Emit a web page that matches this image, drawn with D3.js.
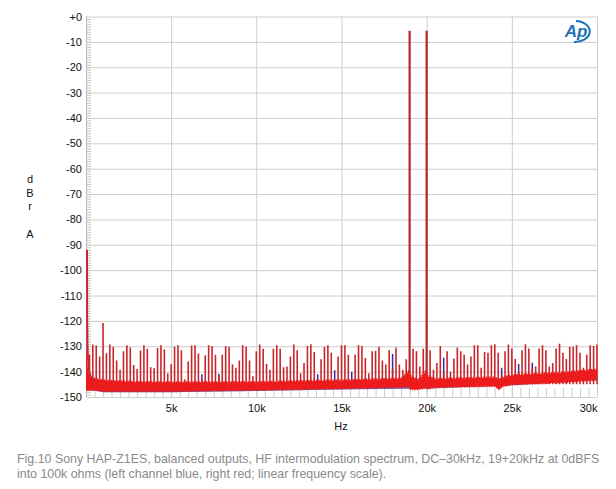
<!DOCTYPE html>
<html><head><meta charset="utf-8">
<script src="https://cdn.jsdelivr.net/npm/d3@7"></script>
<style>
body{margin:0;background:#fff}
svg{display:block}
text{font-family:"Liberation Sans",Arial,Helvetica,sans-serif}
</style>
</head><body>
<svg id="c" width="616" height="489"></svg>
<script>
// ---------- DATA ----------
const yTicks = [0,-10,-20,-30,-40,-50,-60,-70,-80,-90,-100,-110,-120,-130,-140,-150];
const xTicks = [5000,10000,15000,20000,25000,30000];
const xTickLabels = ["5k","10k","15k","20k","25k","30k"];

// IMD spur frequencies (kHz) and right-channel (red) levels (dBr A)
const spikeFreqsK = [
 0.2,0.4,0.6,0.8,1.0,1.2,1.4,1.6,1.8,2.0,2.2,2.4,2.6,2.8,3.0,3.2,3.4,3.6,3.8,4.0,4.2,4.4,4.6,4.8,5.0,5.2,5.4,5.6,5.8,6.0,
 6.2,6.4,6.6,6.8,7.0,7.2,7.4,7.6,7.8,8.0,8.2,8.4,8.6,8.8,9.0,9.2,9.4,9.6,9.8,10.0,10.2,10.4,10.6,10.8,11.0,11.2,11.4,11.6,11.8,12.0,
 12.2,12.4,12.6,12.8,13.0,13.2,13.4,13.6,13.8,14.0,14.2,14.4,14.6,14.8,15.0,15.2,15.4,15.6,15.8,16.0,16.2,16.4,16.6,16.8,17.0,17.2,17.4,17.6,17.8,18.0,
 18.2,18.4,18.6,18.8,19.0,19.2,19.4,19.6,19.8,20.0,20.2,20.4,20.6,20.8,21.0,21.2,21.4,21.6,21.8,22.0,22.2,22.4,22.6,22.8,23.0,23.2,23.4,23.6,23.8,24.0,
 24.2,24.4,24.6,24.8,25.0,25.2,25.4,25.6,25.8,26.0,26.2,26.4,26.6,26.8,27.0,27.2,27.4,27.6,27.8,28.0,28.2,28.4,28.6,28.8,29.0,29.2,29.4,29.6,29.8,30.0];
const redSpikeLevels = [
 -133.3,-129.3,-129.7,-134,-120.8,-132.8,-129.3,-130.2,-135.6,-139.3,-132,-129.6,-130.5,-137.4,-139,-131.7,-129.6,-131,-138.3,-138.7,-130.7,-129.6,-131.3,-140.6,-137.1,-130.2,-129.6,-131.6,-143,-136,
 -129.7,-129.6,-132.9,-143,-133.5,-129.6,-129.9,-133.3,-141.5,-133.3,-129.9,-130.2,-137.2,-138.5,-135.6,-129.6,-130.2,-135.6,-141.8,-132,-129.3,-131,-137,-139.3,-131,-129.6,-131,-138.3,-138,-134,
 -129.3,-131.6,-140.6,-136.6,-129.9,-129.2,-132.3,-143,-135.1,-130.2,-129.6,-132.6,-143,-134,-129.6,-129.6,-133.3,-143,-133.3,-129.6,-129.9,-134.6,-140.6,-132,-131.8,-130.2,-135.6,-137.2,-131.6,-139,
 -130.5,-137.2,-139.3,-135.1,-5.6,-131,-132,-138,-131,-5.6,-131.6,-139.3,-136.6,-129.9,-140,-132,-140,-134.8,-130.5,-132,-133.3,-137.2,-134,-129.6,-129.6,-138.5,-132.3,-132.6,-129.6,-129.2,
 -132.6,-141,-132,-129.3,-130.9,-135,-140,-131.6,-129.2,-130.9,-139,-138,-130.9,-129.6,-131.6,-138,-136.6,-130.9,-129,-132.6,-135,-130.2,-130.2,-129.6,-132.6,-138.5,-133.3,-129.6,-129.9,-129.3];

// left-channel (blue) spurs that show above the red trace
const blueSpikeFreqsK = [6.8,7.8,13.6,14.6,15.6,18.0,21.0,24.4,25.4,26.2];
const blueSpikeLevels = [-141,-140.8,-141,-139.5,-140,-133,-134.5,-138.5,-137,-136.5];

// noise floor envelopes (Hz, dB)
const redFloorFreqs  = [300,1000,3000,5000,10000,15000,18500,18950,19050,19500,19950,20050,20500,24000,24250,24500,25000,28000,30000];
const redFloorTop    = [-142.5,-143.5,-144.2,-144.3,-144.2,-143.5,-142.8,-140,-141.8,-143.5,-140,-141.8,-143,-142.3,-143.5,-142.3,-141.5,-140.4,-139.2];
const redFloorBottom = [-147,-147.8,-147.8,-147.8,-147.3,-146.7,-146.2,-146,-147,-147,-146.5,-146.8,-146.3,-145.8,-147,-145.8,-145.2,-144.3,-143.2];
const blueFloorFreqs  = [300,1000,5000,10000,15000,20000,25000,30000];
const blueFloorTop    = [-143.5,-144.5,-145,-145,-144.5,-143.5,-142.5,-140.5];
const blueFloorBottom = [-147.2,-148.1,-148.1,-147.6,-147,-146.6,-145.4,-143.4];

// DC / low-frequency skirt
const dcFreqs  = [0,10,30,60,100,150,220,320,450];
const dcLevels = [-92,-118,-130,-135,-138.5,-140.5,-142,-143,-143.5];

const captionLines = [
 "Fig.10 Sony HAP-Z1ES, balanced outputs, HF intermodulation spectrum, DC\u201330kHz, 19+20kHz at 0dBFS",
 "into 100k ohms (left channel blue, right red; linear frequency scale)."
];

// ---------- CHART ----------
const svg = d3.select("#c");
const L = 86, R = 597, T = 16.5, B = 397;
const x = d3.scaleLinear().domain([0,30000]).range([L,R]);
const y = d3.scaleLinear().domain([-150,0]).range([B,T]);
const gridC = "#cdcdcd";

// grid
svg.append("g").attr("transform",`translate(${L},0)`)
  .call(d3.axisLeft(y).tickValues(yTicks).tickSize(-(R-L)).tickFormat(""))
  .call(g=>{g.select(".domain").remove(); g.selectAll("line").attr("stroke",gridC);});
svg.append("g").attr("transform",`translate(0,${B})`)
  .call(d3.axisBottom(x).tickValues(xTicks).tickSize(-(B-T)).tickFormat(""))
  .call(g=>{g.select(".domain").remove(); g.selectAll("line").attr("stroke",gridC);});
svg.append("line").attr("x1",L+0.5).attr("x2",L+0.5).attr("y1",T).attr("y2",B).attr("stroke","#b8b8b8");

// minor ticks
const yMinor = d3.range(-149,0,1);
svg.append("g").attr("transform",`translate(${L},0)`)
  .call(d3.axisRight(y).tickValues(yMinor).tickSize(5).tickFormat(""))
  .call(g=>{g.select(".domain").remove(); g.selectAll("line").attr("stroke","#c4c4c4");});
const xMinor = d3.range(500,30000,500);
svg.append("g").attr("transform",`translate(0,${B})`)
  .call(d3.axisTop(x).tickValues(xMinor).tickSize(9).tickFormat(""))
  .call(g=>{g.select(".domain").remove(); g.selectAll("line").attr("stroke","#cfcfcf");});

// tick labels
svg.append("g").attr("transform",`translate(${L},0)`)
  .call(d3.axisLeft(y).tickValues(yTicks).tickSize(0).tickPadding(4).tickFormat(d=>d===0?"+0":String(d)))
  .call(g=>{g.select(".domain").remove(); g.selectAll("text").attr("font-size",11).attr("fill","#111").attr("font-family","'Liberation Sans',Arial,sans-serif");});
svg.append("g").attr("transform",`translate(0,${B})`)
  .call(d3.axisBottom(x).tickValues(xTicks).tickSize(0).tickPadding(7).tickFormat((d,i)=>xTickLabels[i]))
  .call(g=>{g.select(".domain").remove(); g.selectAll("text").attr("font-size",11).attr("fill","#111").attr("font-family","'Liberation Sans',Arial,sans-serif");
    g.selectAll("text").filter(d=>d===30000).attr("text-anchor","end").attr("dx",0);});

// axis titles
[["d",183],["B",197],["r",210],["A",238]].forEach(([s,yy])=>{
  svg.append("text").attr("x",30).attr("y",yy).attr("font-size",11).attr("fill","#111").attr("text-anchor","middle").text(s);
});
svg.append("text").attr("x",341).attr("y",430).attr("font-size",11).attr("fill","#111").attr("text-anchor","middle").text("Hz");

// clip
svg.append("clipPath").attr("id","clip").append("rect").attr("x",L).attr("y",T-1).attr("width",R-L+1).attr("height",B-T+1.5);
const plot = svg.append("g").attr("clip-path","url(#clip)");

const redC = "#ec1c1c", redDark = "#c9262b", blueC = "#3a2aa8";

// blue floor
const areaB = d3.area().x((d,i)=>x(blueFloorFreqs[i])).y0((d,i)=>y(blueFloorBottom[i])).y1((d,i)=>y(blueFloorTop[i]));
plot.append("path").attr("d",areaB(blueFloorFreqs)).attr("fill",blueC).attr("opacity",0.75);
// blue spikes
plot.selectAll(".bs").data(blueSpikeFreqsK).join("line")
  .attr("x1",d=>x(d*1000)).attr("x2",d=>x(d*1000))
  .attr("y1",y(-145)).attr("y2",(d,i)=>y(blueSpikeLevels[i]))
  .attr("stroke",blueC).attr("stroke-width",1.5);

// red spikes
plot.selectAll(".rs").data(spikeFreqsK).join("line")
  .attr("x1",d=>x(d*1000)).attr("x2",d=>x(d*1000))
  .attr("y1",y(-145)).attr("y2",(d,i)=>y(redSpikeLevels[i]))
  .attr("stroke",(d,i)=>redSpikeLevels[i]>-50?"#b8262c":redDark)
  .attr("stroke-width",(d,i)=>redSpikeLevels[i]>-50?2.2:1.6);

// red floor
const areaR = d3.area().x((d,i)=>x(redFloorFreqs[i])).y0((d,i)=>y(redFloorBottom[i])).y1((d,i)=>y(redFloorTop[i]));
plot.append("path").attr("d",areaR(redFloorFreqs)).attr("fill",redC);
// ragged edges of floor
const lineTop = d3.line().x((d,i)=>x(redFloorFreqs[i])).y((d,i)=>y(redFloorTop[i]));
plot.append("path").attr("d",lineTop(redFloorFreqs)).attr("fill","none").attr("stroke",redC).attr("stroke-width",2.5).attr("stroke-dasharray","1.5,1");
const lineBot = d3.line().x((d,i)=>x(redFloorFreqs[i])).y((d,i)=>y(redFloorBottom[i]));
plot.append("path").attr("d",lineBot(redFloorFreqs)).attr("fill","none").attr("stroke",redC).attr("stroke-width",1.6).attr("stroke-dasharray","1,1.5");

// DC skirt
const areaDC = d3.area().x((d,i)=>x(dcFreqs[i])).y0(y(-147.5)).y1((d,i)=>y(dcLevels[i]));
plot.append("path").attr("d",areaDC(dcFreqs)).attr("fill",redC);
const lineDC = d3.line().x((d,i)=>x(dcFreqs[i])+1).y((d,i)=>y(dcLevels[i]));
plot.append("path").attr("d",lineDC(dcFreqs)).attr("fill","none").attr("stroke",redDark).attr("stroke-width",2);

// AP logo
const logo = svg.append("g").attr("transform","translate(578,31)");
logo.append("path").attr("d","M -4 11 A 14 10 0 1 0 -2 -10").attr("fill","none").attr("stroke","#1f72b8").attr("stroke-width",2);
logo.append("text").attr("x",-2).attr("y",6).attr("text-anchor","middle").attr("font-size",17).attr("font-style","italic").attr("font-weight","bold").attr("fill","#1f72b8").text("Ap");

// caption
captionLines.forEach((s,i)=>{
  svg.append("text").attr("x",17).attr("y",463+i*15).attr("font-size",12.4).attr("fill","#8a8a8a").text(s);
});
</script>
</body></html>
